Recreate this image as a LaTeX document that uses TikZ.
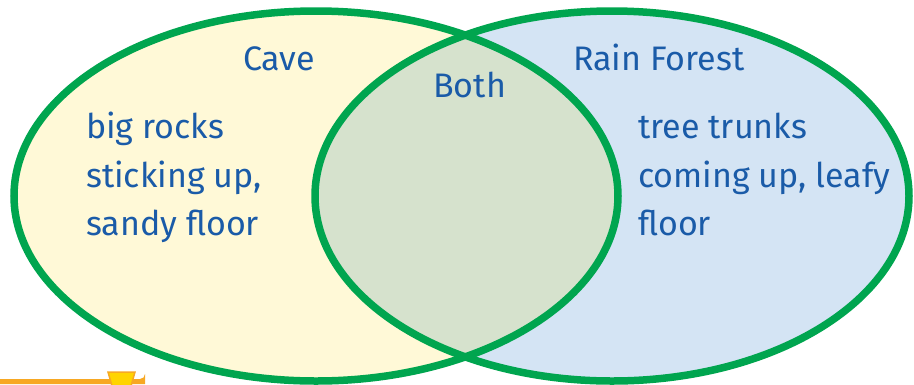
\documentclass[tikz,border=0pt]{standalone}
\usepackage{fontspec}
\setmainfont{Fira Sans}
\definecolor{vgreen}{HTML}{00A54F}
\definecolor{cavefill}{HTML}{FFF9D7}
\definecolor{rainfill}{HTML}{D4E4F4}
\definecolor{bothfill}{HTML}{D6E2CD}
\definecolor{txtblue}{HTML}{1A5BA8}
\definecolor{barorange}{HTML}{F7A823}
\definecolor{tabyellow}{HTML}{FFD400}
\begin{document}
\begin{tikzpicture}[x=1pt,y=-1pt,
  lbl/.style={text=txtblue, font=\fontsize{34}{42}\selectfont, inner sep=0pt, anchor=base west},
  ring/.style={draw=vgreen, line width=7.5pt}]
\useasboundingbox (0,0) rectangle (914,384);
% fills
\fill[cavefill] (316,196) ellipse [x radius=302, y radius=185];
\fill[rainfill] (612,196) ellipse [x radius=297, y radius=185];
\begin{scope}
  \clip (316,196) ellipse [x radius=302, y radius=185];
  \fill[bothfill] (612,196) ellipse [x radius=297, y radius=185];
\end{scope}
% bottom-left tab
\fill[barorange] (0,379) -- (140,379) arc[start angle=90, end angle=0, radius=5] -- (145,384) -- (0,384) -- cycle;
\filldraw[fill=tabyellow, draw=barorange, line width=1.5pt] (108,372) -- (135,372) -- (131,386) -- (112,386) -- cycle;
% rings
\draw[ring] (316,196) ellipse [x radius=302, y radius=185];
\draw[ring] (612,196) ellipse [x radius=297, y radius=185];
% labels
\node[lbl] (cave) at (243,70) {Cave};
\node[lbl] (both) at (433,97) {Both};
\node[lbl] (rain) at (573,70) {Rain Forest};
\node[lbl] (c1) at (86,138) {big rocks};
\node[lbl] (c2) at (86,187) {sticking up,};
\node[lbl] (c3) at (86,235) {sandy floor};
\node[lbl] (r1) at (638,138) {tree trunks};
\node[lbl] (r2) at (638,187) {coming up, leafy};
\node[lbl] (r3) at (638,235) {floor};
\end{tikzpicture}
\end{document}
